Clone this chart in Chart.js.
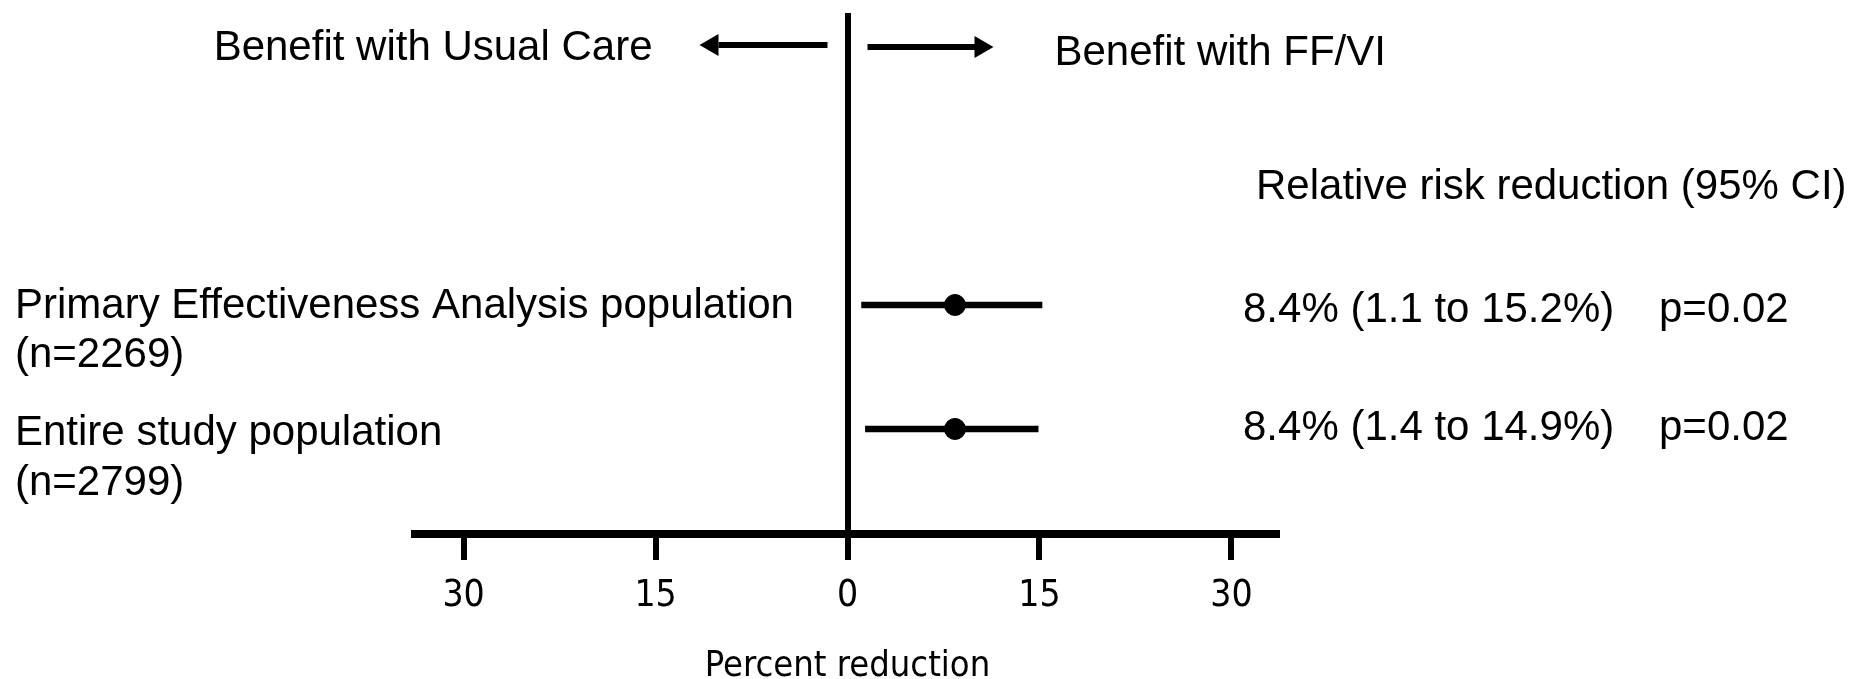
<!DOCTYPE html>
<html>
<head>
<meta charset="utf-8">
<script src="https://cdn.jsdelivr.net/npm/chart.js@4.4.1/dist/chart.umd.min.js"></script>
<style>
  html, body { margin: 0; padding: 0; background: #ffffff; }
  #wrap { width: 1852px; height: 679px; position: relative; }
</style>
</head>
<body>
<div id="wrap"><canvas id="c" width="1852" height="679"></canvas></div>
<script>
// ---- data ----
const groupLabels = ['Primary Effectiveness Analysis population', 'Entire study population'];
const groupN = ['(n=2269)', '(n=2799)'];
const rowIndex = [1, 2];
const rrr = [8.4, 8.4];
const ciLow = [1.1, 1.4];
const ciHigh = [15.2, 14.9];
const pValues = ['p=0.02', 'p=0.02'];
const tickValues = [-30, -15, 0, 15, 30];
const axisTitle = 'Percent reduction';
const leftHeader = 'Benefit with Usual Care';
const rightHeader = 'Benefit with FF/VI';
const ciHeader = 'Relative risk reduction (95% CI)';

const SANS = "'Liberation Sans', Arial, sans-serif";
const NARROW = "'Liberation Sans Narrow', 'Arial Narrow', 'DejaVu Sans Condensed', sans-serif";

const ciData = rowIndex.map((r, i) => ({ x: [ciLow[i], ciHigh[i]], y: r }));
const ptData = rowIndex.map((r, i) => ({ x: rrr[i], y: r }));

// text layout offsets (px from each row's centre line)
const labelOffsets = [[13, 62], [16, 66]];
const statOffsets = [17, 11];

const textPlugin = {
  id: 'forestText',
  afterDraw(chart) {
    const ctx = chart.ctx;
    const xs = chart.scales.x, ys = chart.scales.y;
    const x0 = xs.getPixelForValue(0);
    ctx.save();
    ctx.fillStyle = '#000';
    ctx.textBaseline = 'alphabetic';
    ctx.font = '42px ' + SANS;
    // header texts
    ctx.textAlign = 'right';
    ctx.fillText(leftHeader, x0 - 195, 60);
    ctx.textAlign = 'left';
    ctx.fillText(rightHeader, x0 + 207, 65);
    ctx.fillText(ciHeader, 1256, 199);
    // arrows
    function arrow(xTail, xTip, y) {
      const dir = Math.sign(xTip - xTail);
      const headLen = 19, headHalf = 11;
      const xBase = xTip - dir * headLen;
      ctx.fillRect(Math.min(xTail, xBase), y - 3, Math.abs(xBase - xTail) + 1, 6);
      ctx.beginPath();
      ctx.moveTo(xTip, y);
      ctx.lineTo(xBase, y - headHalf);
      ctx.lineTo(xBase, y + headHalf);
      ctx.closePath();
      ctx.fill();
    }
    arrow(x0 - 21, x0 - 148, 45);
    arrow(x0 + 20, x0 + 146, 47);
    // row labels
    rowIndex.forEach((r, i) => {
      const y = ys.getPixelForValue(r);
      ctx.textAlign = 'left';
      ctx.fillText(groupLabels[i], 15, y + labelOffsets[i][0]);
      ctx.fillText(groupN[i], 15, y + labelOffsets[i][1]);
      const ry = y + statOffsets[i];
      ctx.fillText(rrr[i] + '% (' + ciLow[i] + ' to ' + ciHigh[i] + '%)', 1243, ry);
      ctx.fillText(pValues[i], 1659, ry);
    });
    ctx.restore();
  }
};

new Chart(document.getElementById('c'), {
  type: 'bar',
  data: {
    datasets: [
      {
        type: 'bar',
        indexAxis: 'y',
        data: ciData,
        backgroundColor: '#000',
        borderWidth: 0,
        barThickness: 6,
        xAxisID: 'x',
        yAxisID: 'y'
      },
      {
        type: 'scatter',
        data: ptData,
        backgroundColor: '#000',
        borderColor: '#000',
        pointRadius: 10.5,
        pointHoverRadius: 10.5,
        xAxisID: 'x',
        yAxisID: 'y'
      }
    ]
  },
  options: {
    responsive: false,
    animation: false,
    events: [],
    layout: { padding: { top: 13, left: 415, right: 572, bottom: 0 } },
    plugins: { legend: { display: false }, tooltip: { enabled: false } },
    scales: {
      x: {
        type: 'linear',
        position: 'bottom',
        offset: false,
        min: -33.8,
        max: 33.8,
        afterBuildTicks(scale) { scale.ticks = tickValues.map(v => ({ value: v })); },
        afterFit(scale) { scale.height = 145; },
        border: { display: true, color: '#000', width: 8 },
        grid: {
          offset: false,
          drawOnChartArea: true,
          color: ctx => (ctx.tick && ctx.tick.value === 0) ? '#000' : 'rgba(0,0,0,0)',
          lineWidth: ctx => (ctx.tick && ctx.tick.value === 0) ? 6 : 0,
          tickColor: '#000',
          tickWidth: 6,
          tickLength: 26
        },
        ticks: {
          color: '#000',
          font: { family: NARROW, size: 37 },
          padding: 14,
          maxRotation: 0,
          callback: v => String(Math.abs(v))
        },
        title: {
          display: true,
          text: axisTitle,
          color: '#000',
          font: { family: NARROW, size: 36, lineHeight: 0.667 },
          padding: { top: 0, bottom: 0 }
        }
      },
      y: {
        type: 'linear',
        display: false,
        offset: false,
        grid: { offset: false },
        reverse: true,
        min: -1.355,
        max: 2.847
      }
    }
  },
  plugins: [textPlugin]
});
</script>
</body>
</html>
